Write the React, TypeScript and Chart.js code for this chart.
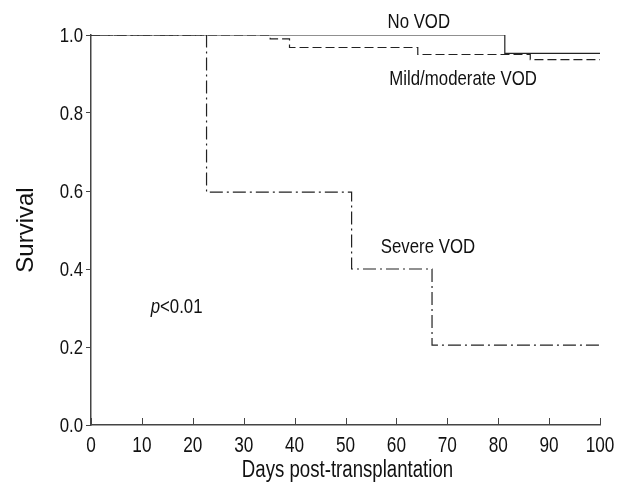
import React, { useEffect, useRef } from "react";
import { Chart, registerables } from "chart.js";

Chart.register(...registerables);

const noVodX = [0, 81.3, 100];
const noVodY = [1.0, 0.953, 0.953];
const mildX = [0, 35.2, 39.0, 64.2, 86.3, 100];
const mildY = [1.0, 0.99, 0.968, 0.95, 0.937, 0.937];
const severeX = [0, 22.7, 51.2, 67.0, 100];
const severeY = [1.0, 0.597, 0.4, 0.205, 0.205];
const xTicks = [0, 10, 20, 30, 40, 50, 60, 70, 80, 90, 100];
const yTicks = [0, 0.2, 0.4, 0.6, 0.8, 1.0];
const xTitle = "Days post-transplantation";
const yTitle = "Survival";
const labelTexts = ["No VOD", "Mild/moderate VOD", "Severe VOD"];
const labelX = [64.4, 73.1, 66.2];
const labelY = [1.018, 0.872, 0.44];
const pText = ["p", "<0.01"];
const pX = 11.73;
const pY = 0.287;

const FONT = "'Liberation Sans', Arial, sans-serif";
const SQ = 0.8; // horizontal squash of the reference's lettering

export default function App() {
  const ref = useRef<HTMLCanvasElement>(null);
  useEffect(() => {
    document.body.style.margin = "0";
    const canvas = ref.current!;
    const pts = (xs: number[], ys: number[]) => xs.map((x, i) => ({ x, y: ys[i] }));
    const txt = (ctx: any, s: string, x: number, y: number, align: string, font: string) => {
      ctx.save();
      ctx.font = font;
      ctx.textAlign = align;
      ctx.textBaseline = "alphabetic";
      ctx.translate(x, y);
      ctx.scale(SQ, 1);
      ctx.fillText(s, 0, 0);
      const w = ctx.measureText(s).width * SQ;
      ctx.restore();
      return w;
    };
    const overlay = {
      id: "overlay",
      afterDraw(chart: any) {
        const ctx = chart.ctx;
        const xs = chart.scales.x;
        const ys = chart.scales.y;
        const ca = chart.chartArea;
        ctx.save();
        ctx.strokeStyle = "#444";
        ctx.lineWidth = 1;
        xTicks.forEach((t) => {
          const px = Math.round(xs.getPixelForValue(t)) + 0.5;
          ctx.beginPath();
          ctx.moveTo(px, ca.bottom);
          ctx.lineTo(px, ca.bottom - 7);
          ctx.stroke();
        });
        ctx.fillStyle = "#111";
        const tickFont = `21.5px ${FONT}`;
        xTicks.forEach((t) => {
          txt(ctx, String(t), xs.getPixelForValue(t), ca.bottom + 27, "center", tickFont);
        });
        yTicks.forEach((t) => {
          txt(ctx, t.toFixed(1), ca.left - 8, ys.getPixelForValue(t) + 7, "right", `21px ${FONT}`);
        });
        // axis titles
        txt(ctx, xTitle, (ca.left + ca.right) / 2 + 2, 477, "center", `23.3px ${FONT}`);
        ctx.save();
        ctx.font = `24px ${FONT}`;
        ctx.textAlign = "center";
        ctx.textBaseline = "alphabetic";
        ctx.translate(33, (ca.top + ca.bottom) / 2);
        ctx.rotate(-Math.PI / 2);
        ctx.fillText(yTitle, 0, 0);
        ctx.restore();
        // annotations
        const aFont = `21px ${FONT}`;
        for (let i = 0; i < labelTexts.length; i++) {
          txt(ctx, labelTexts[i], xs.getPixelForValue(labelX[i]), ys.getPixelForValue(labelY[i]), "center", aFont);
        }
        const px0 = xs.getPixelForValue(pX);
        const py0 = ys.getPixelForValue(pY);
        const w = txt(ctx, pText[0], px0, py0, "left", `italic 21px ${FONT}`);
        txt(ctx, pText[1], px0 + w, py0, "left", aFont);
        ctx.restore();
      },
    };
    const chart = new Chart(canvas, {
      type: "line",
      data: {
        datasets: [
          {
            label: "No VOD",
            data: pts(noVodX, noVodY),
            stepped: "before",
            borderColor: "#222",
            borderWidth: 1.2,
            pointRadius: 0,
            fill: false,
          },
          {
            label: "Mild/moderate VOD",
            data: pts(mildX, mildY),
            stepped: "before",
            borderColor: "#222",
            borderWidth: 1.2,
            borderDash: [9, 4],
            pointRadius: 0,
            fill: false,
          },
          {
            label: "Severe VOD",
            data: pts(severeX, severeY),
            stepped: "before",
            borderColor: "#222",
            borderWidth: 1.2,
            borderDash: [13, 4, 2, 4],
            pointRadius: 0,
            fill: false,
          },
        ],
      },
      options: {
        animation: false,
        responsive: false,
        maintainAspectRatio: false,
        layout: { padding: { top: 35, right: 23, left: 0, bottom: 0 } },
        plugins: { legend: { display: false }, tooltip: { enabled: false } },
        scales: {
          x: {
            type: "linear",
            min: 0,
            max: 100,
            afterFit: (s: any) => {
              s.height = 59;
            },
            afterBuildTicks: (s: any) => {
              s.ticks = xTicks.map((v) => ({ value: v }));
            },
            grid: { display: true, drawOnChartArea: false, drawTicks: false, color: "#444" },
            border: { display: true, color: "#444", width: 1.5 },
            ticks: { display: false },
            title: { display: false },
          },
          y: {
            type: "linear",
            min: 0,
            max: 1,
            afterFit: (s: any) => {
              s.width = 91;
            },
            afterBuildTicks: (s: any) => {
              s.ticks = yTicks.map((v) => ({ value: v }));
            },
            grid: { display: true, drawOnChartArea: false, drawTicks: true, tickLength: 5, color: "#444" },
            border: { display: true, color: "#444", width: 1.5 },
            ticks: { display: false },
            title: { display: false },
          },
        },
      },
      plugins: [overlay],
    } as any);
    return () => chart.destroy();
  }, []);
  return (
    <div style={{ width: 623, height: 484, background: "#fff" }}>
      <canvas ref={ref} width={623} height={484} style={{ display: "block" }} />
    </div>
  );
}
